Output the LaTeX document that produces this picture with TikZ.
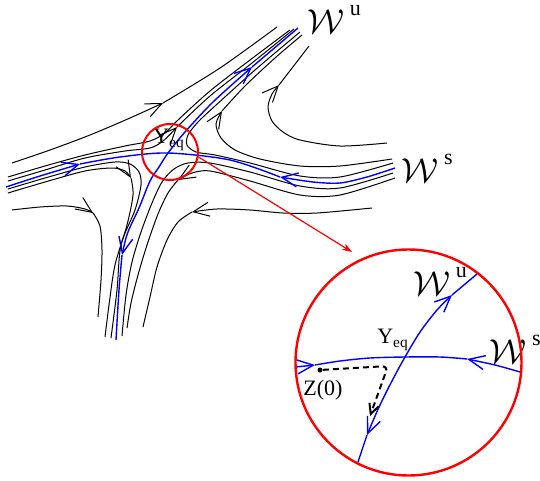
\documentclass[tikz,border=0pt]{standalone}
\usepackage{fontspec}
\setmainfont{Liberation Serif}
\usetikzlibrary{arrows.meta}

\newcommand{\manifold}[1]{{\fontsize{16}{18}\selectfont$\mathcal{W}$}\hspace{3pt}\raisebox{9pt}{#1}}

\begin{document}
\begin{tikzpicture}[
    x=0.5pt, y=-0.5pt,
    >={Straight Barb[length=8pt, width=7pt]},
    every node/.style={inner sep=0pt, font=\fontsize{11}{13}\selectfont},
    orbit/.style={line width=0.5pt},
    sep/.style={blue, line width=0.7pt},
    lens/.style={circle, draw=red, line width=#1},
    drift/.style={line width=1pt, dash pattern=on 3pt off 2pt, rounded corners=3pt, -{Straight Barb[length=5pt, width=5pt]}},
    zoomarrow/.style={red, line width=0.6pt, -{Stealth[length=5pt, width=3.5pt]}},
]
\useasboundingbox (0,0) rectangle (540,481);

\draw[orbit, ->] plot[smooth] coordinates {(12,163) (50,150) (90,135) (130,118) (163,103)};
\draw[orbit] plot[smooth] coordinates {(163,103) (220,68) (277,27)};
\draw[orbit] plot[smooth] coordinates {(8,177) (45,166) (85,155) (125,146) (150,141) (165,133) (178,120) (210,91) (250,60) (290,30)};
\draw[orbit, ->] plot[smooth] coordinates {(8,181) (45,170) (85,158) (125,151) (150,148) (163,141) (177,127)};
\draw[orbit] plot[smooth] coordinates {(177,127) (210,96) (252,63) (294,29)};

\draw[orbit, ->] plot[smooth] coordinates {(387,143) (340,146) (300,140) (283,132) (272,121) (268,107) (272,94) (279,85)};
\draw[orbit] plot[smooth] coordinates {(279,85) (309,46)};
\draw[orbit, ->] plot[smooth] coordinates {(392,159) (340,166) (300,166) (260,159) (235,150) (221,138) (216,124) (222,111)};
\draw[orbit] plot[smooth] coordinates {(222,111) (245,86) (275,58) (302,35)};
\draw[orbit] plot[smooth] coordinates {(393,163) (340,177) (300,176) (250,163) (215,155) (196,152) (187,145) (188,135) (198,122) (215,106) (255,70) (300,32)};

\draw[orbit, ->] plot[smooth] coordinates {(12,210) (40,207) (67,206) (85,209) (93,213)};
\draw[orbit] plot[smooth] coordinates {(93,213) (100,226) (102,250) (101,280) (98,317)};
\draw[orbit, ->] plot[smooth] coordinates {(8,193) (45,182) (85,171) (112,168) (125,171) (131,178)};
\draw[orbit] plot[smooth] coordinates {(131,178) (133,195) (127,225) (115,265) (109,305) (105,337)};
\draw[orbit] plot[smooth] coordinates {(8,189) (45,178) (85,167) (115,162) (130,164) (139,172) (141,185) (135,210) (121,245) (117,290) (111,338)};

\draw[orbit, ->] plot[smooth] coordinates {(372,208) (317,213) (283,213) (250,210) (217,209) (192,212)};
\draw[orbit] plot[smooth] coordinates {(192,212) (178,222) (167,240) (157,267) (150,297) (143,327)};
\draw[orbit] plot[smooth] coordinates {(393,173) (340,188) (300,186) (250,172) (210,163) (188,163) (174,169) (162,182) (152,203) (141,232) (132,262) (126,295) (122,336)};
\draw[orbit, ->] plot[smooth] coordinates {(395,178) (340,195) (300,195) (250,181) (210,171) (192,173) (178,180)};
\draw[orbit] plot[smooth] coordinates {(178,180) (168,193) (158,214) (147,245) (138,275) (131,303) (127,328)};

\draw[sep, <->] plot[smooth] coordinates {(122,255) (128,232) (139,208) (150,181) (159,167) (168,153) (185,132) (213,102) (252,67)};
\draw[sep] plot[smooth] coordinates {(122,255) (119,290) (116,340)};
\draw[sep] plot[smooth] coordinates {(252,67) (298,28)};
\draw[sep, ->] plot[smooth] coordinates {(6,187) (40,176) (80,164)};
\draw[sep] plot[smooth] coordinates {(80,164) (120,157) (168,153) (230,160) (280,177)};
\draw[sep, ->] plot[smooth] coordinates {(395,168) (367,177) (340,183) (313,182) (280,177)};

\node (wu) at (334,19) {\manifold{u}};
\node (ws) at (427,168) {\manifold{s}};
\node (yeq) at (169,140) {Y\textsubscript{eq}};

\draw[sep, ->] plot[smooth] coordinates {(296,367) (315,365)};
\draw[sep] plot[smooth] coordinates {(315,365) (340,361) (370,358) (405,357) (440,357) (467,359)};
\draw[sep, ->] plot[smooth] coordinates {(520,372) (495,365) (467,359)};
\draw[sep, <->] plot[smooth] coordinates {(367,435) (380,405) (393,379) (405,357) (420,332) (437,310) (452,295)};
\draw[sep] plot[smooth] coordinates {(367,435) (358,462)};
\draw[sep] plot[smooth] coordinates {(452,295) (477,274)};

\node[circle, fill, minimum size=2.5pt] (z0) at (320,370) {};
\node (zlabel) at (323,390) {Z(0)};
\node (yeqbig) at (393,340) {Y\textsubscript{eq}};
\node (wubig) at (440,281) {\manifold{u}};
\node (wsbig) at (515,349) {\manifold{s}};
\draw[drift] (z0) -- (388,366) -- (370,416);

\node[lens=1pt, minimum size=28pt] (zoomc) at (170,152) {};
\node[lens=1.2pt, minimum size=113pt] (bigc) at (408.5,362.5) {};
\coordinate (zoomtip) at (352,252);
\draw[zoomarrow] (zoomc.-10) -- (zoomtip);
\end{tikzpicture}
\end{document}
